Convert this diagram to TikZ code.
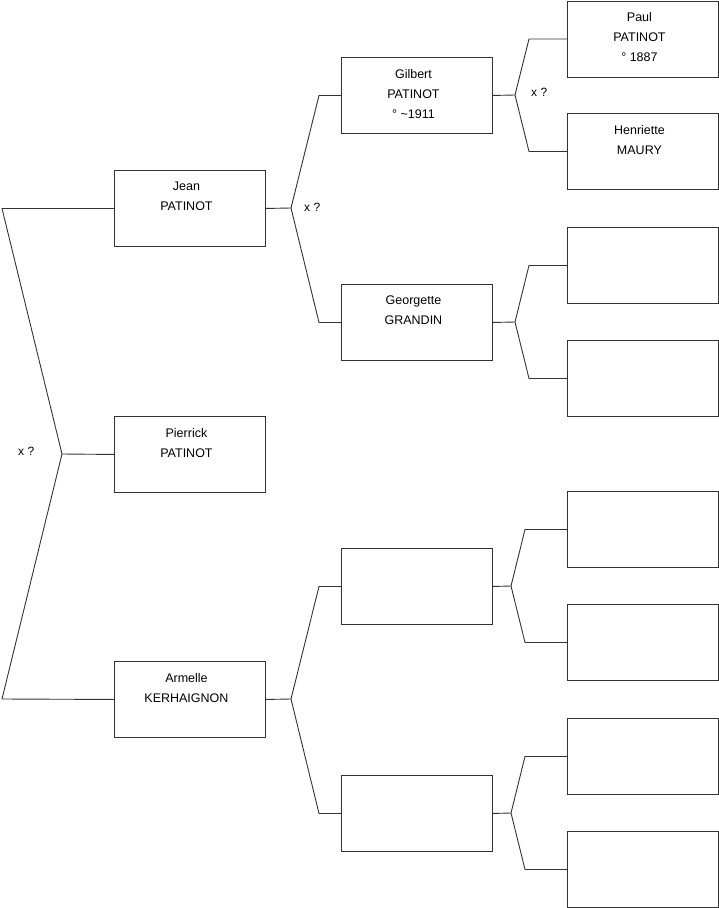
\documentclass[tikz,border=0pt]{standalone}
\usepackage{fontspec}
\setmainfont{Liberation Sans}
\usetikzlibrary{positioning, calc}
\definecolor{trait}{HTML}{333333}

\tikzset{
  personne/.style={draw=trait, line width=0.9pt, anchor=north west, minimum width=151pt, minimum height=76pt, inner sep=0pt},
  nom/.style={anchor=north, align=center, inner sep=0pt, xshift=-3.5pt, font=\fontsize{12.5}{20}\selectfont},
  lien/.style={draw=trait, line width=0.9pt, line join=round},
  union/.style={anchor=west, inner sep=0pt, font=\fontsize{12}{14}\selectfont}
}

\begin{document}
\begin{tikzpicture}[x=1pt, y=-1pt]
    \useasboundingbox (0,0) rectangle (719,908);
    % generation 1
    \node[personne] (jean) at (114,170) {};
    \node[personne] (pierrick) at (114,416) {};
    \node[personne] (armelle) at (114,661) {};
    % generation 2
    \node[personne] (gilbert) at (341,57) {};
    \node[personne] (georgette) at (341,284) {};
    \node[personne] (kerpere) at (341,548) {};
    \node[personne] (kermere) at (341,775) {};
    % generation 3
    \node[personne] (paul) at (567,0.5) {};
    \node[personne] (henriette) at (567,113) {};
    \node[personne] (grapere) at (567,227) {};
    \node[personne] (gramere) at (567,340) {};
    \node[personne] (kpp) at (567,491) {};
    \node[personne] (kpm) at (567,604) {};
    \node[personne] (kmp) at (567,718) {};
    \node[personne] (kmm) at (567,831) {};
    % names
    \node[nom] (jean-t) at ([yshift=-12pt]jean.north) {Jean\\PATINOT};
    \node[nom] (pierrick-t) at ([yshift=-12pt]pierrick.north) {Pierrick\\PATINOT};
    \node[nom] (armelle-t) at ([yshift=-12pt]armelle.north) {Armelle\\KERHAIGNON};
    \node[nom] (gilbert-t) at ([yshift=-12pt]gilbert.north) {Gilbert\\PATINOT\\° \textasciitilde1911};
    \node[nom] (georgette-t) at ([yshift=-12pt]georgette.north) {Georgette\\GRANDIN};
    \node[nom] (paul-t) at ([yshift=-11.5pt]paul.north) {Paul\\PATINOT\\° 1887};
    \node[nom] (henriette-t) at ([yshift=-12pt]henriette.north) {Henriette\\MAURY};
    % forks
    \coordinate (f-racine) at (62,454);
    \coordinate (f-jean) at (291,208);
    \coordinate (f-armelle) at (291,699);
    \coordinate (f-gilbert) at (515,95);
    \coordinate (f-georgette) at (515,322);
    \coordinate (f-kerpere) at (511,586);
    \coordinate (f-kermere) at (511,813);
    \draw[lien] (jean.west) -- ++(-112,0) -- (f-racine) -- ++(-60,245) -- (armelle.west);
    \draw[lien] (f-racine) -- (pierrick.west);
    \foreach \enfant/\pere/\mere/\d in {jean/gilbert/georgette/22, armelle/kerpere/kermere/22,
        gilbert/paul/henriette/38, georgette/grapere/gramere/38,
        kerpere/kpp/kpm/42, kermere/kmp/kmm/42} {
      \draw[lien] (\enfant.east) -- (f-\enfant);
      \draw[lien] (\pere.west) -- ++(-\d,0) -- (f-\enfant) -- ($(\mere.west)+(-\d,0)$) -- (\mere.west);
    }
    % unions
    \node[union] (u-racine) at (18,451) {x ?};
    \node[union] (u-jean) at (304,207) {x ?};
    \node[union] (u-gilbert) at (531,92) {x ?};
\end{tikzpicture}
\end{document}
